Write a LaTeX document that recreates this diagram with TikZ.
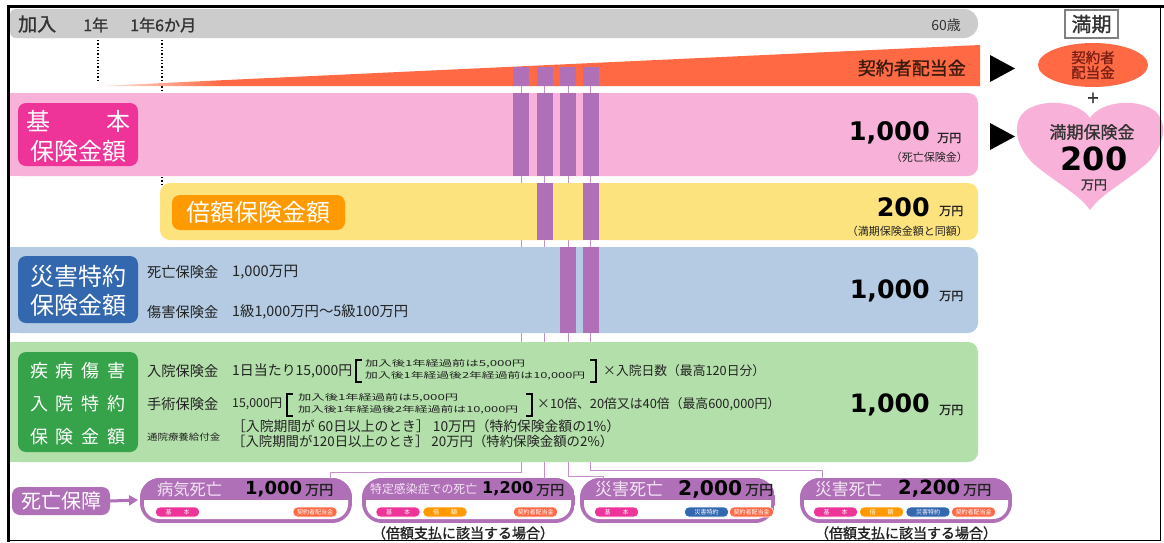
\documentclass[tikz,border=0pt]{standalone}
\usepackage{fontspec}
\setmainfont{Noto Sans CJK JP}
\newfontfamily\jpb{Noto Sans CJK JP}[FakeBold=1.2]
\newfontfamily\numf{DejaVu Sans}
\usetikzlibrary{arrows.meta,shapes.geometric}
\definecolor{grayb}{HTML}{CCCCCC}
\definecolor{orW}{HTML}{FF6A45}
\definecolor{pinkB}{HTML}{F8B1D9}
\definecolor{magL}{HTML}{EE3399}
\definecolor{yelB}{HTML}{FDE37E}
\definecolor{oraL}{HTML}{FF9A00}
\definecolor{bluB}{HTML}{B4CBE3}
\definecolor{bluL}{HTML}{3468AE}
\definecolor{grnB}{HTML}{B3DFAA}
\definecolor{grnL}{HTML}{36A24A}
\definecolor{purp}{HTML}{B070B8}
\definecolor{thinpc}{HTML}{C48FCB}
\definecolor{txtc}{HTML}{222222}
\definecolor{txtg}{HTML}{333333}
\definecolor{brownt}{HTML}{3A1A0A}
\definecolor{redt}{HTML}{7A1F14}
\definecolor{lavt}{HTML}{F3E4F3}
\newcommand\fsz[1]{\fontsize{#1}{#1}\selectfont}
\newcommand\wfit[2]{\resizebox{#1pt}{!}{#2}}
\newcommand\whfit[3]{\resizebox{#1pt}{#2pt}{#3}}
\newcommand\dbox[2]{%
  \begin{scope}
  \clip[rounded corners=20pt] (#1,478) rectangle (#2,523);
  \fill[purp] (#1,478) rectangle (#2,523);
  \fill[white,rounded corners=15pt] (#1+4,482) rectangle (#2-4,519);
  \fill[purp] (#1,478) rectangle (#2,500);
  \end{scope}}
\begin{document}
\begin{tikzpicture}[x=1pt,y=-1pt,
  every node/.style={inner sep=0pt,text=txtc},
  thinp/.style={draw=thinpc,line width=1pt},
  pill/.style={fill=#1,rounded corners=4.5pt,minimum width=44pt,minimum height=10pt,
    inner sep=0pt,text=white,font=\fsz{6},draw=white,line width=.6pt},
  lab/.style={text=white,font=\fsz{24}},
  small/.style={anchor=west,font=\fsz{13.5},text=txtc},
  bignum/.style={anchor=east,font=\numf\bfseries\fsz{25.5},text=black},
  manen/.style={anchor=west,font=\jpb\fsz{12},text=txtc}]
\useasboundingbox (0,0) rectangle (1164,542);
\fill[white] (0,0) rectangle (1164,542);

% thin column lines (under the bands)
\foreach \x/\n in {521/1,544.5/2,568/3,590.5/4}{
  \coordinate (top\n) at (\x,67);
  \coordinate (bot\n) at (\x,462);
  \draw[thinp] (top\n) -- (bot\n);
}

% gray time bar
\fill[grayb,rounded corners=14pt] (10,9) rectangle (978,38);
\fill[grayb,rounded corners=6pt] (10,9) rectangle (60,38);
\node[anchor=west,font=\jpb\fsz{19},text=txtg] (kanyu) at (18,24) {加入};
\node[anchor=west,font=\jpb\fsz{15.5},text=txtg] (y1) at (83,25) {\wfit{25}{1年}};
\node[anchor=west,font=\jpb\fsz{15.5},text=txtg] (y15) at (130,25) {\wfit{66}{1年6か月}};
\node[anchor=east,font=\fsz{14},text=txtg] (y60) at (961,25) {60歳};

% dotted markers
\draw[dotted,line width=1.3pt] (98,40) -- (98,80);
\draw[dotted,line width=1.3pt] (162,40) -- (162,92);
\draw[dotted,line width=1.3pt] (162,177) -- (162,185);

% dividend wedge
\shade[left color=orW!15,right color=orW] (100,86) -- (220,80.3) -- (220,86) -- cycle;
\fill[orW] (220,80.3) -- (980,45) -- (980,86) -- (220,86) -- cycle;
\node[anchor=east,font=\jpb\fsz{18},text=brownt] (div) at (966,68) {契約者配当金};

% bands
\fill[pinkB,rounded corners=10pt] (10,93) rectangle (978,176);
\fill[pinkB] (10,93) rectangle (40,176);
\fill[yelB,rounded corners=10pt] (160,183) rectangle (978,240);
\fill[bluB,rounded corners=10pt] (10,247) rectangle (978,333);
\fill[bluB] (10,247) rectangle (40,333);
\fill[grnB,rounded corners=10pt] (10,342) rectangle (978,462);
\fill[grnB] (10,342) rectangle (40,462);

% band labels
\fill[magL,rounded corners=8pt] (18,103) rectangle (138,166);
\node[lab] (k1) at (39,121) {基};
\node[lab] (k2) at (118,121) {本};
\node[lab] (k3) at (78,151) {保険金額};
\fill[oraL,rounded corners=8pt] (172,195) rectangle (345,230);
\node[lab] (bai) at (258,212) {倍額保険金額};
\fill[bluL,rounded corners=8pt] (18,256) rectangle (138,323);
\node[lab] (s1) at (78,276) {災害特約};
\node[lab] (s2) at (78,305) {保険金額};
\fill[grnL,rounded corners=8pt] (18,352) rectangle (138,452);
\node[lab,font=\fsz{18}] (g1) at (78,371) {疾\hspace{8pt}病\hspace{8pt}傷\hspace{8pt}害};
\node[lab,font=\fsz{18}] (g2) at (78,404) {入\hspace{8pt}院\hspace{8pt}特\hspace{8pt}約};
\node[lab,font=\fsz{18}] (g3) at (78,437) {保\hspace{8pt}険\hspace{8pt}金\hspace{8pt}額};

% purple bars
\foreach \x in {513,537,560,583}{
  \fill[purp] (\x,67) rectangle ++(16,19);
  \fill[purp] (\x,93) rectangle ++(16,83);
}
\foreach \x in {537,583} \fill[purp] (\x,183) rectangle ++(16,57);
\foreach \x in {560,583} \fill[purp] (\x,247) rectangle ++(16,86);

% right amounts
\node[bignum] (n1) at (930,133) {\wfit{81}{1,000}};
\node[manen] (m1) at (937,138) {万円};
\node[anchor=east,font=\fsz{11},text=txtc] (p1) at (968,157) {（死亡保険金）};
\node[bignum] (n2) at (930,207) {\wfit{53}{200}};
\node[manen] (m2) at (939,211) {万円};
\node[anchor=east,font=\fsz{11},text=txtc] (p2) at (968,231) {（満期保険金額と同額）};
\node[bignum] (n3) at (930,291) {\wfit{80}{1,000}};
\node[manen] (m3) at (939,296) {万円};
\node[bignum] (n4) at (930,405) {\wfit{80}{1,000}};
\node[manen] (m4) at (939,410) {万円};

% blue band text
\node[small] (bt1) at (147,272) {\wfit{71}{死亡保険金}};
\node[small] (bt2) at (232,272) {\wfit{66}{1,000万円}};
\node[small] (bt3) at (147,312) {\wfit{71}{傷害保険金}};
\node[small] (bt4) at (232,312) {\wfit{176}{1級1,000万円〜5級100万円}};

% green band text
\node[small] (gt1) at (147,371) {\wfit{71}{入院保険金}};
\node[small] (gt2) at (232,371) {\wfit{120}{1日当たり15,000円}};
\draw[line width=2pt] (362,360) -- (356,360) -- (356,382) -- (362,382);
\node[small] (gs1) at (365,364) {\whfit{160}{7}{加入後1年経過前は5,000円}};
\node[small] (gs2) at (365,376) {\whfit{220}{7}{加入後1年経過後2年経過前は10,000円}};
\draw[line width=2pt] (590,360) -- (596,360) -- (596,382) -- (590,382);
\node[small] (gt3) at (603,371) {\wfit{162}{×入院日数（最高120日分）}};

\node[small] (gt4) at (147,404) {\wfit{71}{手術保険金}};
\node[small] (gt5) at (232,404) {\wfit{50}{15,000円}};
\draw[line width=2pt] (293,394) -- (287,394) -- (287,416) -- (293,416);
\node[small] (gs3) at (298,398) {\whfit{160}{7}{加入後1年経過前は5,000円}};
\node[small] (gs4) at (298,410) {\whfit{220}{7}{加入後1年経過後2年経過前は10,000円}};
\draw[line width=2pt] (526,394) -- (532,394) -- (532,416) -- (526,416);
\node[small] (gt6) at (537,404) {\wfit{243}{×10倍、20倍又は40倍（最高600,000円）}};

\node[small] (gt7) at (147,437) {\whfit{73}{7.5}{通院療養給付金}};
\node[small] (gt8) at (232,426) {\wfit{388}{［入院期間が 60日以上のとき］ 10万円（特約保険金額の1\%）}};
\node[small] (gt9) at (232,441) {\wfit{381}{［入院期間が120日以上のとき］ 20万円（特約保険金額の2\%）}};

% maturity side
\node[draw=gray,line width=1.5pt,fill=white,minimum width=53pt,minimum height=28pt,font=\jpb\fsz{20},text=txtg] (mk) at (1091.5,24) {満期};
\fill (990,55) -- (1015,68.5) -- (990,82) -- cycle;
\fill (990,123) -- (1015,136.5) -- (990,150) -- cycle;
\node[ellipse,fill=orW,minimum width=110pt,minimum height=44pt] (ell) at (1093,65) {};
\node[font=\jpb\fsz{14.5},text=redt,align=center] (ellt) at (1093,65) {契約者\\[0.5pt]配当金};
\node[font=\jpb\fsz{20},text=txtg] (plus) at (1093,99) {+};
\fill[pinkB] (1090,118) .. controls (1078,100) and (1040,98) .. (1024,112)
  .. controls (1010,126) and (1018,150) .. (1035,165)
  .. controls (1055,182) and (1080,195) .. (1090,210)
  .. controls (1100,195) and (1125,182) .. (1145,165)
  .. controls (1162,150) and (1170,126) .. (1156,112)
  .. controls (1140,98) and (1102,100) .. (1090,118) -- cycle;
\node[font=\jpb\fsz{17},text=txtg] (h1) at (1092,132) {満期保険金};
\node[font=\numf\bfseries\fsz{32},text=black] (h2) at (1094,159) {200};
\node[font=\jpb\fsz{13},text=txtg] (h3) at (1094,185) {万円};

% death benefit row
\node[fill=purp,rounded corners=8pt,minimum width=98pt,minimum height=28pt,text=white,font=\fsz{20}] (dl) at (61,501) {死亡保障};
\coordinate (b1w) at (138,500);
\draw[purp,line width=3pt,-{Triangle[length=9pt,width=10pt]}] (dl.east) -- (b1w);

\dbox{140}{352}
\dbox{362}{575}
\dbox{580}{775}
\dbox{800}{1012}
\coordinate (b1t) at (330,479);
\coordinate (b2t) at (544.5,479);
\coordinate (b3t) at (603,479);
\coordinate (b4t) at (822,479);
\draw[thinp] (bot1) -- ++(0,10) -| (b1t);
\draw[thinp] (bot2) -- (b2t);
\draw[thinp] (bot3) -- ++(0,14) -| (b3t);
\draw[thinp] (bot4) -- ++(0,8) -| (b4t);

% box 1
\node[anchor=west,text=lavt] (d1a) at (157,489) {\wfit{65}{病気死亡}};
\node[anchor=west,text=black] (d1b) at (245,489) {\wfit{57}{\numf\bfseries 1,000}};
\node[anchor=west,font=\jpb\fsz{14},text=txtc] (d1c) at (305,490) {万円};
\node[pill=magL] (p11) at (177.5,512) {基\hspace{12pt}本};
\node[pill=orW] (p12) at (315,512) {契約者配当金};
% box 2
\node[anchor=west,text=lavt] (d2a) at (370,489) {\wfit{107}{特定感染症での死亡}};
\node[anchor=west,text=black] (d2b) at (482,489) {\wfit{51}{\numf\bfseries 1,200}};
\node[anchor=west,font=\jpb\fsz{14},text=txtc] (d2c) at (536,490) {万円};
\node[pill=magL] (p21) at (398,512) {基\hspace{12pt}本};
\node[pill=oraL] (p22) at (445,512) {倍\hspace{12pt}額};
\node[pill=orW] (p23) at (535.5,512) {契約者配当金};
\node[font=\jpb\fsz{14},text=txtc] (c2) at (463,533) {（倍額支払に該当する場合）};
% box 3
\node[anchor=west,text=lavt] (d3a) at (595,489) {\wfit{68}{災害死亡}};
\node[anchor=west,text=black] (d3b) at (678,489) {\wfit{64}{\numf\bfseries 2,000}};
\node[anchor=west,font=\jpb\fsz{14},text=txtc] (d3c) at (745,490) {万円};
\node[pill=magL] (p31) at (616.5,512) {基\hspace{12pt}本};
\node[pill=bluL] (p32) at (706.5,512) {災害特約};
\node[pill=orW] (p33) at (751.5,512) {契約者配当金};
% box 4
\node[anchor=west,text=lavt] (d4a) at (815,489) {\wfit{67}{災害死亡}};
\node[anchor=west,text=black] (d4b) at (898,489) {\wfit{62}{\numf\bfseries 2,200}};
\node[anchor=west,font=\jpb\fsz{14},text=txtc] (d4c) at (963,490) {万円};
\node[pill=magL] (p41) at (835.5,512) {基\hspace{12pt}本};
\node[pill=oraL] (p42) at (881.5,512) {倍\hspace{12pt}額};
\node[pill=bluL] (p43) at (928,512) {災害特約};
\node[pill=orW] (p44) at (973.5,512) {契約者配当金};
\node[font=\jpb\fsz{14},text=txtc] (c4) at (906,533) {（倍額支払に該当する場合）};

% frame
\draw[line width=3.5pt] (8.5,542) -- (8.5,6.5) -- (1164,6.5);
\draw[line width=1.5pt] (1160.5,6.5) -- (1160.5,540.5) -- (8.5,540.5);
\end{tikzpicture}
\end{document}
